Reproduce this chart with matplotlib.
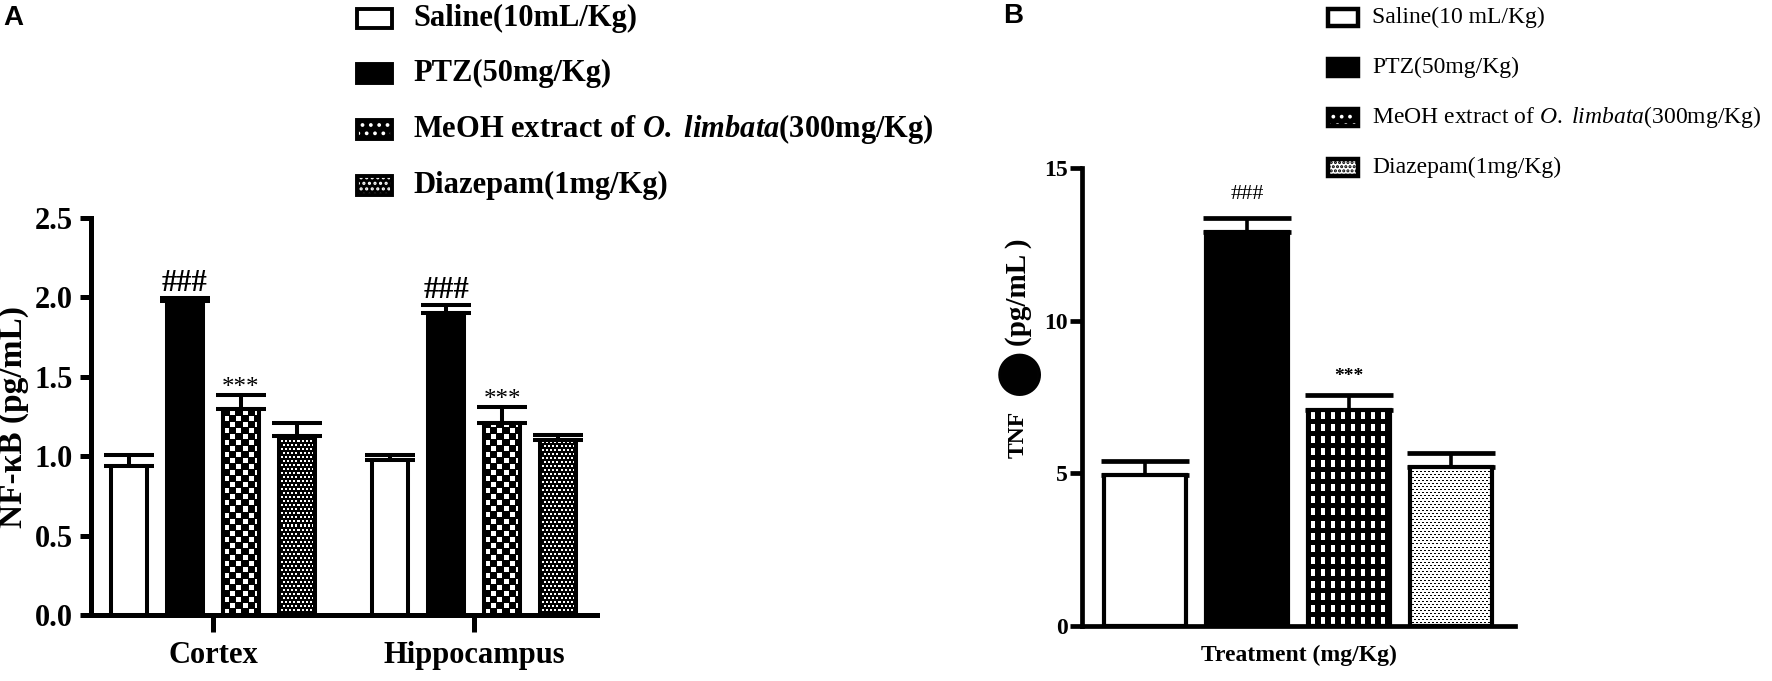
import numpy as np
import matplotlib
matplotlib.use("Agg")
import matplotlib.pyplot as plt
from matplotlib.patches import Rectangle
from matplotlib.ticker import FormatStrFormatter

plt.rcParams['font.family'] = ['Liberation Serif', 'DejaVu Serif']
plt.rcParams['mathtext.fontset'] = 'custom'
plt.rcParams['mathtext.rm'] = 'Liberation Serif'
plt.rcParams['mathtext.it'] = 'Liberation Serif:italic'
plt.rcParams['mathtext.bf'] = 'Liberation Serif:bold'
plt.rcParams['mathtext.bfit'] = 'Liberation Serif:italic:bold'
plt.rcParams['hatch.linewidth'] = 1.5

# ---- data, panel A (NF-kB) ----
regions = ['Cortex', 'Hippocampus']
labels_a = ['Saline(10mL/Kg)', 'PTZ(50mg/Kg)',
            r'MeOH extract of $\mathbfit{O.\ limbata}$(300mg/Kg)', 'Diazepam(1mg/Kg)']
nfkb_saline = [0.94, 0.975]
nfkb_ptz = [1.98, 1.90]
nfkb_meoh = [1.30, 1.21]
nfkb_diaz = [1.13, 1.10]
nfkb_saline_err = [0.07, 0.035]
nfkb_ptz_err = [0.015, 0.05]
nfkb_meoh_err = [0.085, 0.10]
nfkb_diaz_err = [0.08, 0.035]
nfkb_marks = ['', '###', '***', '']
nfkb_ticks = [0.0, 0.5, 1.0, 1.5, 2.0, 2.5]

# ---- data, panel B (TNF) ----
labels_b = ['Saline(10 mL/Kg)', 'PTZ(50mg/Kg)',
            r'MeOH extract of $\mathit{O.\ limbata}$(300mg/Kg)', 'Diazepam(1mg/Kg)']
tnf_mean = [4.93, 12.9, 7.08, 5.22]
tnf_err = [0.48, 0.45, 0.48, 0.46]
tnf_marks = ['', '###', '***', '']
tnf_ticks = [0, 5, 10, 15]

W, H = 1772, 681
fig = plt.figure(figsize=(W / 100, H / 100), dpi=100)


def fx(px):
    return px / W


def fy(py):
    return 1 - py / H


# textures (pixel based masks, True = white)
def tex_checker(xx, yy):
    c = 6
    return ((xx // c + yy // c) % 2 == 0) & (xx % c >= 1) & (yy % c >= 1)


def tex_dots(xx, yy):
    sh = 2 * ((yy // 4) % 2)
    return ((xx + sh) % 4 < 2) & (yy % 4 < 2)


def tex_grid(xx, yy):
    return (xx % 10 >= 3) & (xx % 10 <= 6) & (yy % 12 >= 2) & (yy % 12 <= 8)


def tex_stipple(xx, yy):
    sh = 2 * ((yy // 3) % 2)
    return ~(((xx + sh) % 4 < 2) & (yy % 3 == 0))


def add_texture(ax, bar, func):
    x0, y0 = bar.get_x(), bar.get_y()
    w, h = bar.get_width(), bar.get_height()
    (p0x, p0y), (p1x, p1y) = ax.transData.transform([(x0, y0), (x0 + w, y0 + h)])
    nw, nh = max(int(round(p1x - p0x)), 1), max(int(round(p1y - p0y)), 1)
    yy, xx = np.mgrid[0:nh, 0:nw]
    img = np.where(func(xx, yy), 1.0, 0.0)
    im = ax.imshow(img, cmap='gray', vmin=0, vmax=1, origin='lower',
                   extent=(x0, x0 + w, y0, y0 + h), aspect='auto',
                   interpolation='nearest', zorder=2.5)
    im.set_clip_path(bar)


def legend_box(x0, x1, yc, h, kind, lw):
    rect = (fx(x0), fy(yc + h / 2)), fx(x1) - fx(x0), h / H
    if kind == 'open':
        fig.add_artist(Rectangle(*rect, transform=fig.transFigure, fc='white', ec='black', lw=lw))
    elif kind == 'solid':
        fig.add_artist(Rectangle(*rect, transform=fig.transFigure, fc='black', ec='black', lw=lw))
    elif kind == 'light':
        fig.add_artist(Rectangle(*rect, transform=fig.transFigure, fc='white', ec='black',
                                 hatch='....', lw=0))
        fig.add_artist(Rectangle(*rect, transform=fig.transFigure, fc='none', ec='black', lw=lw))
    else:
        fig.add_artist(Rectangle(*rect, transform=fig.transFigure, fc='black', ec='white',
                                 hatch=kind, lw=0))
        fig.add_artist(Rectangle(*rect, transform=fig.transFigure, fc='none', ec='black', lw=lw))


# ================= Panel A =================
axA = fig.add_axes([fx(91), fy(615), fx(597) - fx(91), fy(218) - fy(615)])
axA.set_xlim(-0.467, 1.471)
axA.set_ylim(0, 2.5)
axA.set_autoscale_on(False)

xg = np.arange(len(regions))
step, bw = 0.2146, 0.138
series_a = [(nfkb_saline, nfkb_saline_err, 'white', None),
            (nfkb_ptz, nfkb_ptz_err, 'black', None),
            (nfkb_meoh, nfkb_meoh_err, 'none', tex_checker),
            (nfkb_diaz, nfkb_diaz_err, 'none', tex_dots)]
for i, (vals, errs, fc, tex) in enumerate(series_a):
    xs = xg + (i - 1.5) * step
    bars = axA.bar(xs, vals, width=bw, facecolor=fc, edgecolor='black', linewidth=2.9, zorder=3)
    axA.errorbar(xs, vals, yerr=[np.zeros(len(vals)), errs], fmt='none', ecolor='black',
                 elinewidth=2.9, capsize=18, capthick=2.9, zorder=2)
    if tex is not None:
        for b in bars:
            add_texture(axA, b, tex)
    if nfkb_marks[i]:
        for x, v, e in zip(xs, vals, errs):
            if nfkb_marks[i] == '###':
                axA.annotate('###', (x, v + e), xytext=(0, 5), textcoords='offset points',
                             ha='center', va='baseline', fontsize=22, fontweight='bold')
            else:
                axA.annotate('***', (x, v + e), xytext=(0, 1), textcoords='offset points',
                             ha='center', va='baseline', fontsize=18)

for s in ['top', 'right']:
    axA.spines[s].set_visible(False)
for s in ['left', 'bottom']:
    axA.spines[s].set_linewidth(3.6)
axA.set_yticks(nfkb_ticks)
axA.yaxis.set_major_formatter(FormatStrFormatter('%.1f'))
axA.set_xticks(xg)
axA.set_xticklabels(regions)
axA.tick_params(axis='y', length=8, width=3.6, pad=5, labelsize=22)
axA.tick_params(axis='x', length=12, width=3.6, pad=7, labelsize=22)
for lab in axA.get_xticklabels() + axA.get_yticklabels():
    lab.set_fontweight('bold')
axA.set_ylabel('NF-κB (pg/mL)', fontsize=24, fontweight='bold')
axA.yaxis.set_label_coords(-0.122, 0.5)

# legend A
kinds_a = ['open', 'solid', '..', '...']
for i, (lab, kind) in enumerate(zip(labels_a, kinds_a)):
    yc = 18 + i * 55.7
    legend_box(357, 392, yc, 19, kind, 2.8)
    fig.text(fx(413), fy(yc), lab, fontsize=22, fontweight='bold', ha='left', va='center')

fig.text(fx(3), fy(5), 'A', fontsize=20, fontweight='bold', family=['Liberation Sans', 'DejaVu Sans'],
         ha='left', va='top')

# ================= Panel B =================
axB = fig.add_axes([fx(1082), fy(626), fx(1515) - fx(1082), fy(168) - fy(626)])
axB.set_xlim(-0.618, 3.627)
axB.set_ylim(0, 15)
axB.set_autoscale_on(False)

xb = np.arange(len(tnf_mean))
faces_b = ['white', 'black', 'none', 'none']
tex_b = [None, None, tex_grid, tex_stipple]
bars_b = axB.bar(xb, tnf_mean, width=0.81, facecolor=faces_b, edgecolor='black',
                 linewidth=3.0, zorder=3)
axB.errorbar(xb, tnf_mean, yerr=[np.zeros(len(tnf_mean)), tnf_err], fmt='none', ecolor='black',
             elinewidth=2.6, capsize=32, capthick=3.4, zorder=2)
for b, t in zip(bars_b, tex_b):
    if t is not None:
        add_texture(axB, b, t)
for x, v, e, m in zip(xb, tnf_mean, tnf_err, tnf_marks):
    if m == '###':
        axB.annotate(m, (x, v + e), xytext=(0, 14), textcoords='offset points',
                     ha='center', va='baseline', fontsize=16)
    elif m == '***':
        axB.annotate(m, (x, v + e), xytext=(0, 10), textcoords='offset points',
                     ha='center', va='baseline', fontsize=14, fontweight='bold')

for s in ['top', 'right']:
    axB.spines[s].set_visible(False)
for s in ['left', 'bottom']:
    axB.spines[s].set_linewidth(3.4)
axB.set_xticks([])
axB.set_yticks(tnf_ticks)
axB.tick_params(axis='y', length=8.6, width=3.4, pad=1.5, labelsize=17)
for lab in axB.get_yticklabels():
    lab.set_fontweight('bold')
axB.set_xlabel('Treatment (mg/Kg)', fontsize=17, fontweight='bold')
axB.xaxis.set_label_coords(0.5, -0.04)

# y label B (the original shows a dark blob in place of alpha)
fig.text(fx(1018), fy(458), 'TNF', rotation=90, fontsize=17, fontweight='bold',
         ha='center', va='bottom')
fig.text(fx(1017), fy(371), '●', rotation=90, fontsize=40, family=['DejaVu Sans'],
         ha='center', va='center')
fig.text(fx(1018), fy(346), '(pg/mL )', rotation=90, fontsize=21, fontweight='bold',
         ha='center', va='bottom')

# legend B
kinds_b = ['open', 'solid', '..', 'light']
for i, (lab, kind) in enumerate(zip(labels_b, kinds_b)):
    yc = 17 + i * 50
    legend_box(1328, 1358, yc, 17, kind, 3.2)
    fig.text(fx(1372), fy(yc), lab, fontsize=17, ha='left', va='center')

fig.text(fx(1003), fy(3), 'B', fontsize=20, fontweight='bold', family=['Liberation Sans', 'DejaVu Sans'],
         ha='left', va='top')

fig.savefig('out.png', dpi=100)
